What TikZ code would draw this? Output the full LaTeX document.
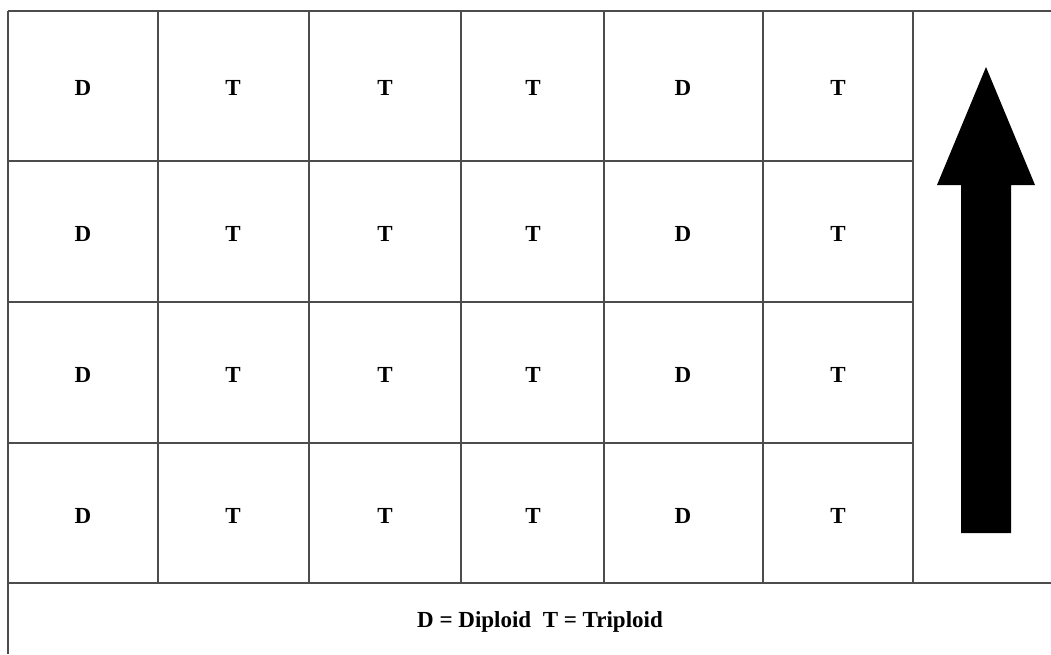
\documentclass[tikz,border=0pt]{standalone}
\usepackage{fontspec}
\setmainfont{Liberation Serif}
\begin{document}
\begin{tikzpicture}[x=1pt,y=-1pt,
  gridline/.style={draw=black!70,line width=1.6pt},
  cell/.style={font=\fontsize{23}{27}\selectfont\bfseries},
  legend/.style={font=\fontsize{23}{27}\selectfont\bfseries}]
\useasboundingbox[fill=white] (0,0) rectangle (1051,654);
% grid lines
\foreach \y in {11,161,302,443}
  \draw[gridline] (8,\y) -- (913,\y);
\draw[gridline] (913,11) -- (1051,11);
\draw[gridline] (8,583) -- (1051,583);
\draw[gridline] (8,11) -- (8,654);
\foreach \x in {158,309,461,604,763,913}
  \draw[gridline] (\x,11) -- (\x,583);
% cell labels
\foreach \y [count=\r] in {88,234,375,516}{
  \node[cell] (c\r-1) at (83,\y) {D};
  \node[cell] (c\r-2) at (233,\y) {T};
  \node[cell] (c\r-3) at (385,\y) {T};
  \node[cell] (c\r-4) at (533,\y) {T};
  \node[cell] (c\r-5) at (683,\y) {D};
  \node[cell] (c\r-6) at (838,\y) {T};
}
% legend
\node[legend] (legend) at (540,622) {D = Diploid\ \ T = Triploid};
% arrow
\fill[black] (986,67) -- (1035,185) -- (1011,185) -- (1011,533) -- (961,533) -- (961,185) -- (937,185) -- cycle;
\end{tikzpicture}
\end{document}
